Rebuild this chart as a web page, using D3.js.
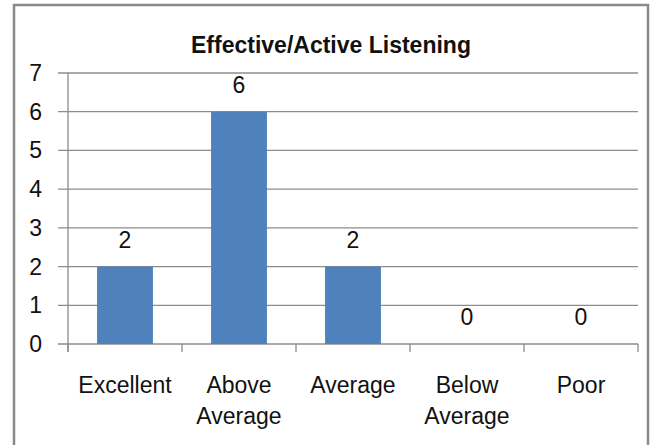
<!DOCTYPE html>
<html>
<head>
<meta charset="utf-8">
<script src="https://cdn.jsdelivr.net/npm/d3@7"></script>
<style>
  body { margin: 0; background: #fff; }
  text { font-family: "Liberation Sans", Arial, sans-serif; fill: #111; }
</style>
</head>
<body>
<script>
// Chart data
var categories = [["Excellent"], ["Above", "Average"], ["Average"], ["Below", "Average"], ["Poor"]];
var values = [2, 6, 2, 0, 0];
var yTicks = [0, 1, 2, 3, 4, 5, 6, 7];
var title = "Effective/Active Listening";

var svgWidth = 651;
var svgHeight = 445;

var margin = { top: 73, right: 13, bottom: 101, left: 68 };
var chartWidth = svgWidth - margin.left - margin.right;
var chartHeight = svgHeight - margin.top - margin.bottom;

var svg = d3.select("body")
  .append("svg")
  .attr("width", svgWidth)
  .attr("height", svgHeight);

// outer chart border
svg.append("rect")
  .attr("x", 14)
  .attr("y", 5)
  .attr("width", 634)
  .attr("height", 460)
  .attr("fill", "none")
  .attr("stroke", "#8a8a8a")
  .attr("stroke-width", 2.5);

svg.append("text")
  .attr("x", 331)
  .attr("y", 53)
  .attr("text-anchor", "middle")
  .attr("font-size", 23)
  .attr("font-weight", "bold")
  .text(title);

var chartGroup = svg.append("g")
  .attr("transform", `translate(${margin.left}, ${margin.top})`);

var keys = categories.map(c => c.join(" "));

var xScale = d3.scaleBand()
  .domain(keys)
  .range([0, chartWidth])
  .padding(0);

var yScale = d3.scaleLinear()
  .domain([0, 7])
  .range([chartHeight, 0]);

// gridlines, with the little tick stub to the left
chartGroup.selectAll(".grid")
  .data(yTicks)
  .enter()
  .append("line")
  .attr("x1", -10)
  .attr("x2", chartWidth)
  .attr("y1", d => yScale(d))
  .attr("y2", d => yScale(d))
  .attr("stroke", "#8c8c8c")
  .attr("stroke-width", 1.3);

// y axis line
chartGroup.append("line")
  .attr("x1", 0).attr("x2", 0)
  .attr("y1", 0).attr("y2", chartHeight + 8)
  .attr("stroke", "#8c8c8c")
  .attr("stroke-width", 1.3);

// x tick marks at category boundaries
var bounds = keys.map(k => xScale(k)).concat([chartWidth]);
chartGroup.selectAll(".xtick")
  .data(bounds)
  .enter()
  .append("line")
  .attr("x1", d => d).attr("x2", d => d)
  .attr("y1", chartHeight).attr("y2", chartHeight + 8)
  .attr("stroke", "#8c8c8c")
  .attr("stroke-width", 1.3);

// y tick labels
chartGroup.selectAll(".ylab")
  .data(yTicks)
  .enter()
  .append("text")
  .attr("x", -26)
  .attr("y", d => yScale(d) + 8)
  .attr("text-anchor", "end")
  .attr("font-size", 23)
  .text(d => d);

var barWidth = xScale.bandwidth() * 0.49;

chartGroup.selectAll(".bar")
  .data(values)
  .enter()
  .append("rect")
  .attr("x", (d, i) => xScale(keys[i]) + (xScale.bandwidth() - barWidth) / 2)
  .attr("y", d => yScale(d))
  .attr("width", barWidth)
  .attr("height", d => chartHeight - yScale(d))
  .attr("fill", "#4f81bd");

// value labels
chartGroup.selectAll(".val")
  .data(values)
  .enter()
  .append("text")
  .attr("x", (d, i) => xScale(keys[i]) + xScale.bandwidth() / 2)
  .attr("y", d => yScale(d) - 19)
  .attr("text-anchor", "middle")
  .attr("font-size", 23)
  .text(d => d);

// category labels (two lines where wrapped)
categories.forEach(function(lines, i) {
  var t = chartGroup.append("text")
    .attr("text-anchor", "middle")
    .attr("font-size", 23)
    .attr("x", xScale(keys[i]) + xScale.bandwidth() / 2)
    .attr("y", chartHeight + 49);
  lines.forEach(function(line, j) {
    t.append("tspan")
      .attr("x", xScale(keys[i]) + xScale.bandwidth() / 2)
      .attr("dy", j === 0 ? 0 : 31)
      .text(line);
  });
});
</script>
</body>
</html>
